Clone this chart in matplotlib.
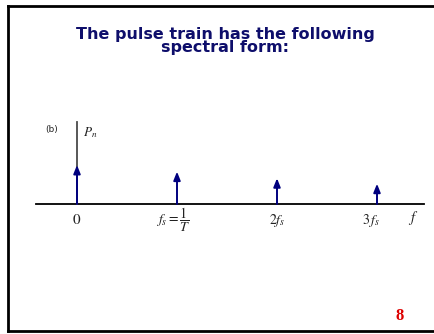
import matplotlib.pyplot as plt
from matplotlib.lines import Line2D

plt.rcParams["mathtext.fontset"] = "stix"

# Spectral lines of the pulse train (harmonic index in units of f_s)
harmonics = [0, 1, 2, 3]
amplitudes = [1.0, 0.83, 0.66, 0.52]
tick_labels = [r"$0$", r"$f_s = \dfrac{1}{T}$", r"$2f_s$", r"$3\,f_s$"]
tick_offsets = [0.0, -0.04, 0.0, -0.06]
tick_y = [-0.2, -0.05, -0.2, -0.2]

title = "The pulse train has the following\nspectral form:"
page_number = "8"

W, H = 435, 334
fig = plt.figure(figsize=(W / 100, H / 100), dpi=100)

# slide frame
fig.add_artist(Line2D([8 / W, 1.0], [1 - 6 / H, 1 - 6 / H], color="black", lw=2.0))
fig.add_artist(Line2D([8 / W, 8 / W], [1 - 6 / H, 1 - 330.5 / H], color="black", lw=2.0))
fig.add_artist(Line2D([8 / W, 1.0], [1 - 330.5 / H, 1 - 330.5 / H], color="black", lw=2.0))

fig.text(225 / W, 1 - 41 / H, title, ha="center", va="center", fontsize=11.5,
         fontweight="bold", color="#0e0e6b", linespacing=0.85)

# spectrum axes: x in multiples of f_s, y in relative amplitude
ax = fig.add_axes([36 / W, (H - 204) / H, 388 / W, 82 / H])
ax.set_xlim(-0.41, 3.47)
ax.set_ylim(0, 2.1)
ax.axis("off")

ax.plot([-0.41, 3.47], [0, 0], color="black", lw=1.3, clip_on=False)
ax.plot([0, 0], [0, 2.1], color="#4a4a4a", lw=1.3, clip_on=False)

for h, a in zip(harmonics, amplitudes):
    ax.annotate("", xy=(h, a), xytext=(h, 0),
                arrowprops=dict(arrowstyle="-|>,head_length=0.5,head_width=0.2",
                                color="#00007f", lw=1.4, shrinkA=0, shrinkB=0))

for h, lab, dx, ty in zip(harmonics, tick_labels, tick_offsets, tick_y):
    ax.text(h + dx, ty, lab, ha="center", va="top", fontsize=11 if h == 0 else 10,
            color="#222222")

ax.text(3.36, -0.12, r"$f$", ha="center", va="top", fontsize=10.5, color="#222222")
ax.text(-0.25, 1.92, "(b)", ha="center", va="center", fontsize=6.5, color="#222222")
ax.text(0.06, 1.82, r"$P_n$", ha="left", va="center", fontsize=9.5, color="#222222")

fig.text(400 / W, 1 - 316 / H, page_number, ha="center", va="center", fontsize=12,
         fontweight="bold", color="#dd0000", family="Liberation Serif")

fig.savefig("out.png", dpi=100)
